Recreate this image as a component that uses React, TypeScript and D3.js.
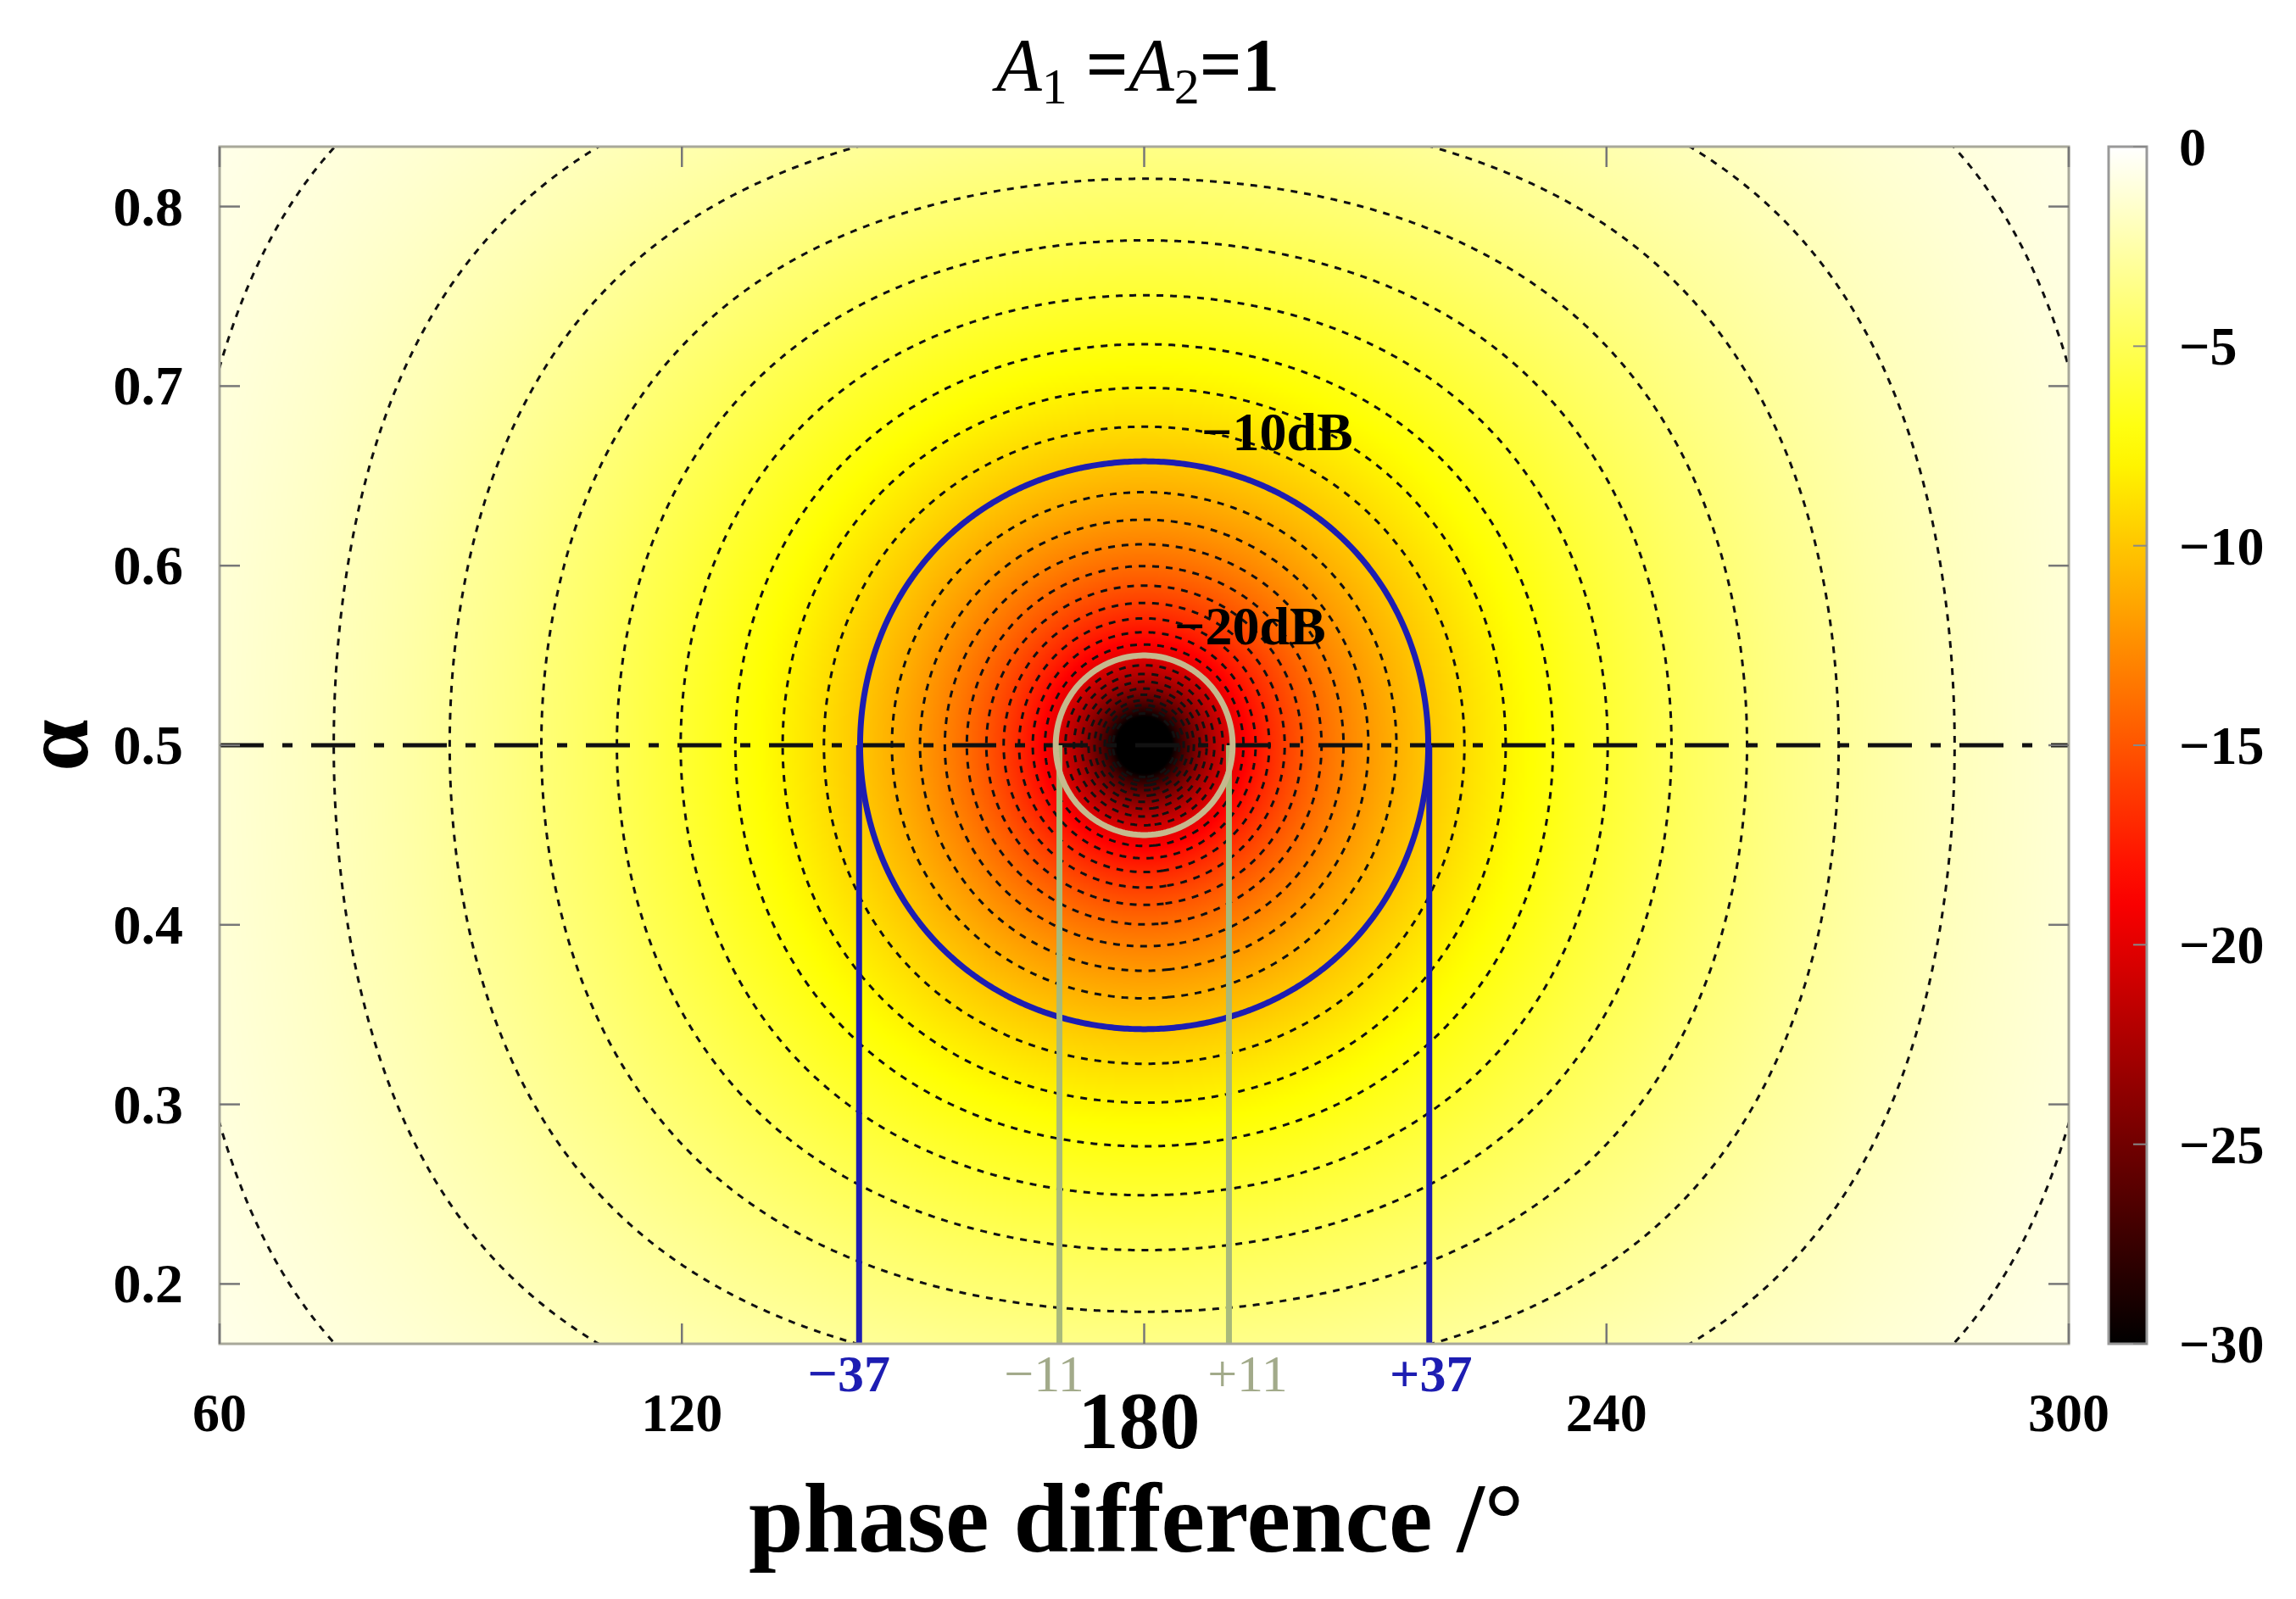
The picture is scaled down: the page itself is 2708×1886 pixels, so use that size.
import React, { useMemo } from "react";
import * as d3 from "d3";

// model parameters shown in the title
const A1 = 1;
const A2 = 1;

const phaseRange = [60, 300];
const alphaRange = [1 / 6, 5 / 6];
const dbRange = [-30, 0];

const phaseTicks = [60, 120, 180, 240, 300];
const alphaTicks = [0.2, 0.3, 0.4, 0.5, 0.6, 0.7, 0.8];
const dbTicks = [0, -5, -10, -15, -20, -25, -30];

// dotted iso-lines, one per dB
const contourLevels = [
  -1, -2, -3, -4, -5, -6, -7, -8, -9, -10, -11, -12, -13, -14, -15,
  -16, -17, -18, -19, -20, -21, -22, -23, -24, -25, -26, -27, -28, -29,
];

const centerPhase = 180;
const centerAlpha = 0.5;
const outerLevel = -10;
const innerLevel = -20;
const outerOffsets = [-37, 37];
const innerOffsets = [-11, 11];

const W = 2708;
const H = 1886;
const margin = { left: 259, right: 268, top: 173, bottom: 301 };
const plotW = W - margin.left - margin.right;
const plotH = H - margin.top - margin.bottom;

const FONT = "'Liberation Serif', 'DejaVu Serif', serif";
const BLUE = "#1d1db2";
const GREEN_RING = "#c6b98e";
const GREEN_LINE = "#a9b97a";
const GREEN_TEXT = "#a2aa8a";

function fieldDb(phi: number, a: number) {
  const r = (phi * Math.PI) / 180;
  const p = A1 * a;
  const q = A2 * (1 - a);
  const v = (p * p + q * q + 2 * p * q * Math.cos(r)) / ((p + q) * (p + q));
  return 10 * Math.log10(Math.max(v, 1e-12));
}

// black -> red -> yellow -> white
function hot(db: number) {
  const t = Math.max(0, Math.min(1, (db - dbRange[0]) / (dbRange[1] - dbRange[0])));
  const c = (v: number) => Math.round(255 * Math.max(0, Math.min(1, v)));
  return [c(t / 0.375), c((t - 0.375) / 0.375), c((t - 0.75) / 0.25)];
}

const fmt = (v: number) => (v < 0 ? "\u2212" + Math.abs(v) : String(v));

export default function App() {
  const x = d3.scaleLinear().domain(phaseRange).range([margin.left, margin.left + plotW]);
  const y = d3.scaleLinear().domain(alphaRange).range([margin.top + plotH, margin.top]);
  const cbX = 2487;
  const cbW = 45;
  const cb = d3.scaleLinear().domain(dbRange).range([margin.top + plotH, margin.top]);

  const heatUrl = useMemo(() => {
    const w = Math.round(plotW / 2);
    const h = Math.round(plotH / 2);
    const canvas = document.createElement("canvas");
    canvas.width = w;
    canvas.height = h;
    const ctx = canvas.getContext("2d");
    if (!ctx) return "";
    const img = ctx.createImageData(w, h);
    for (let j = 0; j < h; j++) {
      const a = y.invert(margin.top + ((j + 0.5) * plotH) / h);
      for (let i = 0; i < w; i++) {
        const phi = x.invert(margin.left + ((i + 0.5) * plotW) / w);
        const [r, g, b] = hot(fieldDb(phi, a));
        const k = (j * w + i) * 4;
        img.data[k] = r;
        img.data[k + 1] = g;
        img.data[k + 2] = b;
        img.data[k + 3] = 255;
      }
    }
    ctx.putImageData(img, 0, 0);
    return canvas.toDataURL();
  }, []);

  const contours = useMemo(() => {
    const nx = 720;
    const ny = 480;
    const pad = 3;
    const dPhi = (phaseRange[1] - phaseRange[0]) / (nx - 1 - 2 * pad);
    const dAlpha = (alphaRange[1] - alphaRange[0]) / (ny - 1 - 2 * pad);
    const values = new Array(nx * ny);
    for (let j = 0; j < ny; j++) {
      for (let i = 0; i < nx; i++) {
        values[j * nx + i] = fieldDb(
          phaseRange[0] + (i - pad) * dPhi,
          alphaRange[1] - (j - pad) * dAlpha
        );
      }
    }
    const proj = d3.geoTransform({
      point(cx: number, cy: number) {
        this.stream.point(
          x(phaseRange[0] + (cx - 0.5 - pad) * dPhi),
          y(alphaRange[1] - (cy - 0.5 - pad) * dAlpha)
        );
      },
    });
    const path = d3.geoPath(proj);
    const gen = d3.contours().size([nx, ny]).thresholds(contourLevels);
    return gen(values).map((c) => ({ value: c.value, d: path(c) || "" }));
  }, []);

  const levelPath = (v: number) => contours.find((c) => c.value === v)?.d || "";

  const gradStops = d3.range(0, 31).map((k) => {
    const db = dbRange[0] + k;
    const [r, g, b] = hot(db);
    return { offset: (k / 30) * 100, color: `rgb(${r},${g},${b})` };
  });

  const bottom = margin.top + plotH;

  return (
    <svg
      width={W}
      height={H}
      style={{ position: "absolute", left: 0, top: 0, background: "#fff" }}
      fontFamily={FONT}
      fontWeight="bold"
    >
      <defs>
        <clipPath id="plotClip">
          <rect x={margin.left} y={margin.top} width={plotW} height={plotH} />
        </clipPath>
        <linearGradient id="cbGrad" x1="0" y1="1" x2="0" y2="0">
          {gradStops.map((s) => (
            <stop key={s.offset} offset={s.offset + "%"} stopColor={s.color} />
          ))}
        </linearGradient>
      </defs>

      {/* title */}
      <text x={1342} y={106} textAnchor="middle" fontSize={88} fontWeight="normal">
        <tspan fontStyle="italic">A</tspan>
        <tspan fontSize={60} dy={16}>1</tspan>
        <tspan dy={-16} fontWeight="bold"> =</tspan>
        <tspan fontStyle="italic">A</tspan>
        <tspan fontSize={60} dy={16}>2</tspan>
        <tspan dy={-16} fontWeight="bold">=1</tspan>
      </text>

      <image
        href={heatUrl}
        x={margin.left}
        y={margin.top}
        width={plotW}
        height={plotH}
        preserveAspectRatio="none"
      />

      <g clipPath="url(#plotClip)">
        {contours.map((c) => (
          <path
            key={c.value}
            d={c.d}
            fill="none"
            stroke="#111"
            strokeWidth={3}
            strokeDasharray="8 8"
          />
        ))}

        <line
          x1={margin.left}
          x2={margin.left + plotW}
          y1={y(centerAlpha)}
          y2={y(centerAlpha)}
          stroke="#111"
          strokeWidth={5}
          strokeDasharray="52 22 12 22"
        />

        <path d={levelPath(outerLevel)} fill="none" stroke={BLUE} strokeWidth={7} />
        {outerOffsets.map((o) => (
          <line
            key={o}
            x1={x(centerPhase + o)}
            x2={x(centerPhase + o)}
            y1={y(centerAlpha)}
            y2={bottom}
            stroke={BLUE}
            strokeWidth={7}
          />
        ))}

        {innerOffsets.map((o) => (
          <line
            key={o}
            x1={x(centerPhase + o)}
            x2={x(centerPhase + o)}
            y1={y(centerAlpha)}
            y2={bottom}
            stroke={GREEN_LINE}
            strokeWidth={7}
          />
        ))}
        <path d={levelPath(innerLevel)} fill="none" stroke={GREEN_RING} strokeWidth={7} />
      </g>

      <text x={1417} y={531} fontSize={64}>{"\u221210dB"}</text>
      <text x={1385} y={760} fontSize={64}>{"\u221220dB"}</text>

      {/* frame and ticks */}
      <rect
        x={margin.left}
        y={margin.top}
        width={plotW}
        height={plotH}
        fill="none"
        stroke="#a8a89a"
        strokeWidth={3}
      />
      {phaseTicks.map((t) => (
        <g key={t} stroke="#777" strokeWidth={2.5}>
          <line x1={x(t)} x2={x(t)} y1={bottom} y2={bottom - 24} />
          <line x1={x(t)} x2={x(t)} y1={margin.top} y2={margin.top + 24} />
        </g>
      ))}
      {alphaTicks.map((t) => (
        <g key={t} stroke="#777" strokeWidth={2.5}>
          <line x1={margin.left} x2={margin.left + 24} y1={y(t)} y2={y(t)} />
          <line x1={margin.left + plotW} x2={margin.left + plotW - 24} y1={y(t)} y2={y(t)} />
        </g>
      ))}

      {/* tick labels */}
      {phaseTicks.map((t) =>
        t === centerPhase ? (
          <text key={t} x={x(t) - 6} y={1708} textAnchor="middle" fontSize={96}>
            {t}
          </text>
        ) : (
          <text key={t} x={x(t)} y={1688} textAnchor="middle" fontSize={64}>
            {t}
          </text>
        )
      )}
      {alphaTicks.map((t) => (
        <text key={t} x={216} y={y(t) + 22} textAnchor="end" fontSize={66}>
          {t.toFixed(1)}
        </text>
      ))}

      {/* offsets under the axis */}
      {outerOffsets.map((o) => (
        <text
          key={o}
          x={x(centerPhase + o) + (o < 0 ? -12 : 2)}
          y={1641}
          textAnchor="middle"
          fontSize={62}
          fill={BLUE}
        >
          {(o < 0 ? "\u2212" : "+") + Math.abs(o)}
        </text>
      ))}
      {innerOffsets.map((o) => (
        <text
          key={o}
          x={x(centerPhase + o) + (o < 0 ? -18 : 22)}
          y={1641}
          textAnchor="middle"
          fontSize={62}
          fontWeight="normal"
          fill={GREEN_TEXT}
        >
          {(o < 0 ? "\u2212" : "+") + Math.abs(o)}
        </text>
      ))}

      {/* axis titles */}
      <text x={1340} y={1830} textAnchor="middle" fontSize={116}>
        phase difference /°
      </text>
      <text
        transform={`translate(66, ${y(centerAlpha)}) rotate(-90)`}
        textAnchor="middle"
        dominantBaseline="central"
        fontSize={110}
      >
        α
      </text>

      {/* colour bar */}
      <rect
        x={cbX}
        y={margin.top}
        width={cbW}
        height={plotH}
        fill="url(#cbGrad)"
        stroke="#999"
        strokeWidth={3}
      />
      {dbTicks.map((t) => (
        <g key={t}>
          <line
            x1={cbX + cbW}
            x2={cbX + cbW - 16}
            y1={cb(t)}
            y2={cb(t)}
            stroke="#888"
            strokeWidth={2}
          />
          <text x={2570} y={cb(t) + 22} fontSize={64}>
            {fmt(t)}
          </text>
        </g>
      ))}
    </svg>
  );
}
